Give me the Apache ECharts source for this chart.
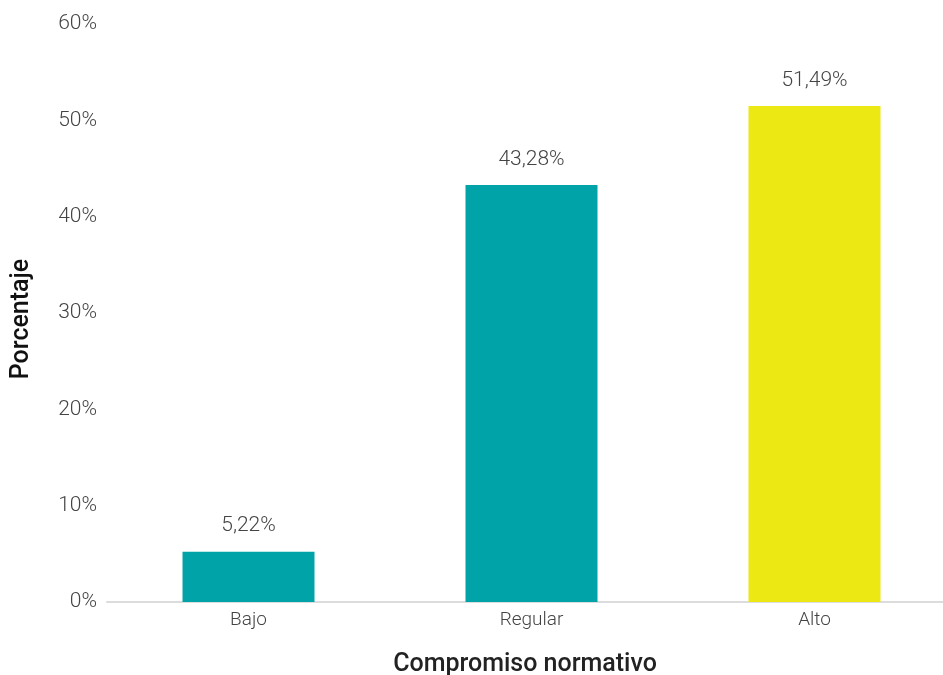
<!DOCTYPE html>
<html>
<head>
<meta charset="utf-8">
<script src="https://cdn.jsdelivr.net/npm/echarts@6/dist/echarts.min.js"></script>
<style>
  html, body { margin: 0; padding: 0; background: #fff; }
  #chart { width: 943px; height: 675px; }
</style>
</head>
<body>
<div id="chart"></div>
<script>
const categories = ['Bajo', 'Regular', 'Alto'];
const values = [5.22, 43.28, 51.49];
const barColors = ['#00A3A8', '#00A3A8', '#EBE813'];
const yTicks = [0, 10, 20, 30, 40, 50, 60];

var myChart = echarts.init(document.getElementById('chart'));

const fmt = v => v.toFixed(2).replace('.', ',') + '%';

var option = {
  animation: false,
  grid: {
    left: 107,
    top: 24,
    bottom: 73,
    width: 849,
    outerBoundsMode: 'none'
  },
  xAxis: {
    type: 'category',
    data: categories,
    name: 'Compromiso normativo',
    nameLocation: 'middle',
    nameGap: 50,
    nameTextStyle: {
      fontFamily: 'Roboto',
      fontSize: 25,
      fontWeight: 500,
      color: '#222',
      padding: [0, 13, 0, 0]
    },
    axisLine: { lineStyle: { color: '#dcdcdc', width: 2 } },
    axisTick: { show: false },
    axisLabel: {
      margin: 9,
      fontFamily: 'Roboto',
      fontSize: 19,
      fontWeight: 300,
      color: '#444'
    }
  },
  yAxis: {
    type: 'value',
    min: yTicks[0],
    max: yTicks[yTicks.length - 1],
    interval: 10,
    name: 'Porcentaje',
    nameLocation: 'middle',
    nameGap: 73,
    nameTextStyle: {
      fontFamily: 'Roboto',
      fontSize: 25,
      fontWeight: 500,
      color: '#111',
      padding: [0, 12, 0, 0]
    },
    splitLine: { show: false },
    axisLine: { show: false },
    axisTick: { show: false },
    axisLabel: {
      margin: 10,
      fontFamily: 'Roboto',
      fontSize: 21,
      fontWeight: 300,
      color: '#444',
      formatter: v => v + '%'
    }
  },
  series: [
    {
      type: 'bar',
      barWidth: 132,
      data: values.map((v, i) => ({ value: v, itemStyle: { color: barColors[i] } })),
      label: {
        show: true,
        position: 'top',
        distance: 15,
        fontFamily: 'Roboto',
        fontSize: 21,
        fontWeight: 300,
        color: '#444',
        formatter: p => fmt(p.value)
      }
    }
  ]
};

option && myChart.setOption(option);
</script>
</body>
</html>
